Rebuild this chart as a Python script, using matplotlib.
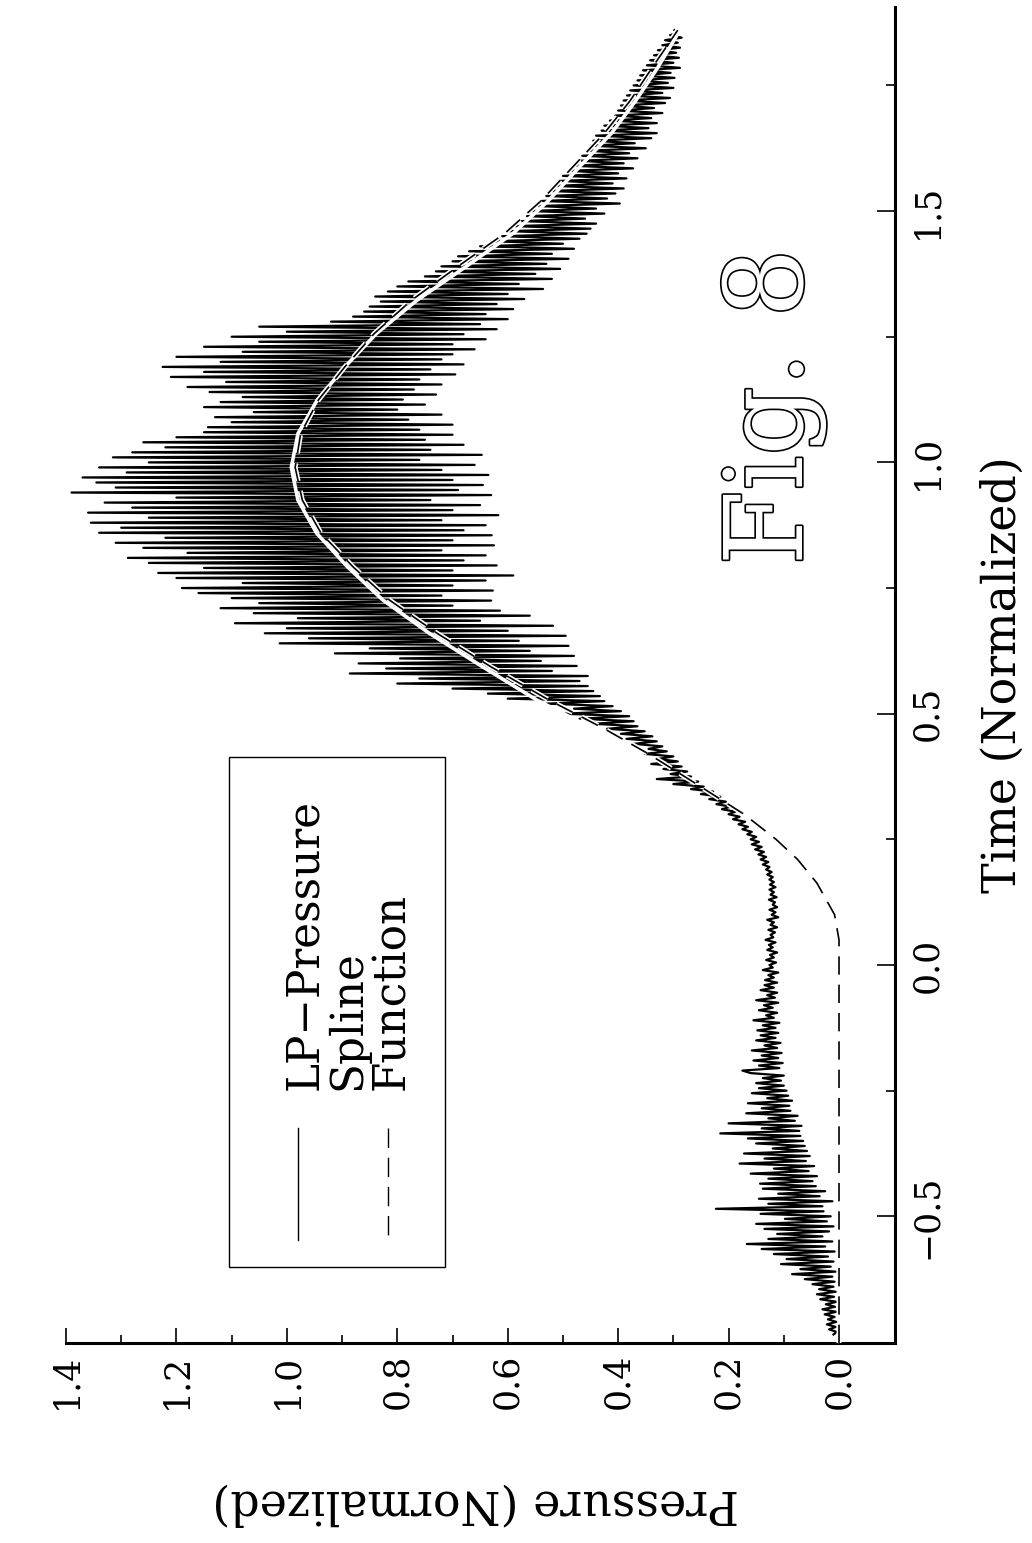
import matplotlib.pyplot as plt
import matplotlib.patheffects as pe
import numpy as np
from matplotlib.patches import Rectangle
from matplotlib.ticker import FixedLocator

plt.rcParams["font.family"] = ["DejaVu Serif"]

# LP-Pressure trace, read off the figure as alternating peaks/troughs,
# evenly sampled in time from lp_t_start to lp_t_end
lp_t_start = -0.735
lp_t_end = 1.86
lp_pressure = [
    0.010, 0.004, 0.018, 0.006, 0.022, 0.005, 0.020, 0.008, 0.026, 0.005,
    0.030, 0.007, 0.024, 0.004, 0.034, 0.009, 0.040, 0.006, 0.036, 0.010,
    0.048, 0.008, 0.062, 0.012, 0.085, 0.006, 0.070, 0.015, 0.105, 0.010,
    0.095, 0.020, 0.118, 0.008, 0.140, 0.025, 0.167, 0.012, 0.128, 0.030,
    0.112, 0.018, 0.135, 0.010, 0.150, 0.022, 0.098, 0.015, 0.142, 0.028,
    0.223, 0.030, 0.128, 0.012, 0.145, 0.035, 0.110, 0.025, 0.138, 0.042,
    0.143, 0.048, 0.128, 0.040, 0.160, 0.055, 0.118, 0.045, 0.180, 0.060,
    0.135, 0.053, 0.172, 0.058, 0.120, 0.062, 0.150, 0.065, 0.165, 0.070,
    0.215, 0.072, 0.140, 0.068, 0.200, 0.080, 0.128, 0.075, 0.168, 0.088,
    0.140, 0.090, 0.165, 0.085, 0.130, 0.092, 0.158, 0.095, 0.145, 0.100,
    0.150, 0.105, 0.138, 0.100, 0.160, 0.175, 0.108, 0.145, 0.102, 0.155,
    0.110, 0.140, 0.104, 0.158, 0.112, 0.135, 0.106, 0.150, 0.115, 0.142,
    0.110, 0.148, 0.115, 0.138, 0.108, 0.155, 0.118, 0.132, 0.112, 0.145,
    0.120, 0.136, 0.110, 0.150, 0.116, 0.130, 0.112, 0.142, 0.118, 0.135,
    0.112, 0.134, 0.118, 0.128, 0.110, 0.138, 0.120, 0.126, 0.114, 0.132,
    0.118, 0.125, 0.112, 0.130, 0.120, 0.127, 0.115, 0.133, 0.119, 0.124,
    0.116, 0.128, 0.112, 0.124, 0.118, 0.130, 0.110, 0.122, 0.115, 0.126,
    0.112, 0.120, 0.116, 0.127, 0.113, 0.124, 0.118, 0.126, 0.115, 0.125,
    0.118, 0.126, 0.120, 0.130, 0.122, 0.132, 0.126, 0.138, 0.128, 0.142,
    0.132, 0.146, 0.136, 0.152, 0.140, 0.158, 0.145, 0.160, 0.150, 0.166,
    0.158, 0.175, 0.165, 0.182, 0.170, 0.192, 0.180, 0.200, 0.188, 0.212,
    0.196, 0.222, 0.205, 0.235, 0.215, 0.250, 0.228, 0.268, 0.245, 0.300,
    0.255, 0.330, 0.268, 0.305, 0.275, 0.318, 0.285, 0.340, 0.292, 0.328,
    0.300, 0.352, 0.312, 0.345, 0.320, 0.372, 0.330, 0.385, 0.338, 0.395,
    0.352, 0.420, 0.365, 0.445, 0.372, 0.470, 0.380, 0.500, 0.395, 0.480,
    0.410, 0.530, 0.425, 0.600, 0.433, 0.636, 0.445, 0.700, 0.455, 0.800,
    0.470, 0.760, 0.455, 0.886, 0.520, 0.820, 0.475, 0.870, 0.540, 0.795,
    0.480, 0.913, 0.560, 0.850, 0.490, 1.013, 0.580, 0.960, 0.495, 1.040,
    0.600, 1.000, 0.518, 1.094, 0.650, 0.980, 0.560, 1.060, 0.614, 1.120,
    0.700, 1.050, 0.630, 1.100, 0.720, 1.160, 0.627, 1.190, 0.700, 1.080,
    0.640, 1.200, 0.590, 1.233, 0.700, 1.150, 0.620, 1.250, 0.680, 1.288,
    0.640, 1.180, 0.720, 1.260, 0.625, 1.310, 0.700, 1.220, 0.629, 1.340,
    0.680, 1.300, 0.640, 1.355, 0.720, 1.250, 0.617, 1.360, 0.700, 1.280,
    0.650, 1.330, 0.740, 1.200, 0.630, 1.390, 0.690, 1.310, 0.645, 1.345,
    0.700, 1.370, 0.635, 1.290, 0.720, 1.340, 0.660, 1.250, 0.760, 1.315,
    0.647, 1.280, 0.740, 1.220, 0.680, 1.260, 0.750, 1.200, 0.700, 1.150,
    0.760, 1.143, 0.700, 1.100, 0.780, 1.130, 0.720, 1.060, 0.800, 1.150,
    0.750, 1.120, 0.790, 1.080, 0.730, 1.140, 0.770, 1.180, 0.720, 1.110,
    0.760, 1.210, 0.695, 1.150, 0.740, 1.225, 0.680, 1.120, 0.720, 1.200,
    0.700, 1.080, 0.660, 1.150, 0.700, 1.050, 0.640, 1.100, 0.680, 1.000,
    0.620, 1.050, 0.650, 0.920, 0.600, 0.880, 0.640, 0.860, 0.590, 0.850,
    0.620, 0.830, 0.570, 0.840, 0.600, 0.817, 0.536, 0.800, 0.580, 0.780,
    0.520, 0.750, 0.550, 0.730, 0.505, 0.720, 0.530, 0.700, 0.490, 0.690,
    0.520, 0.670, 0.480, 0.650, 0.500, 0.630, 0.470, 0.610, 0.457, 0.600,
    0.450, 0.590, 0.440, 0.575, 0.460, 0.565, 0.425, 0.560, 0.440, 0.545,
    0.397, 0.540, 0.420, 0.530, 0.405, 0.525, 0.390, 0.515, 0.410, 0.505,
    0.385, 0.500, 0.400, 0.490, 0.373, 0.480, 0.390, 0.470, 0.365, 0.465,
    0.380, 0.455, 0.350, 0.450, 0.370, 0.445, 0.340, 0.440, 0.330, 0.430,
    0.345, 0.425, 0.330, 0.415, 0.340, 0.405, 0.320, 0.400, 0.335, 0.395,
    0.315, 0.390, 0.306, 0.384, 0.320, 0.378, 0.300, 0.372, 0.310, 0.365,
    0.298, 0.360, 0.305, 0.355, 0.288, 0.348, 0.300, 0.342, 0.290, 0.335,
    0.295, 0.328, 0.288, 0.320, 0.292, 0.315, 0.285, 0.306, 0.290, 0.298,
]
lp_time = np.linspace(lp_t_start, lp_t_end, len(lp_pressure))

# Spline through the data (drawn in white)
spline_time = [0.47, 0.527, 0.593, 0.66, 0.726, 0.792, 0.859, 0.925, 0.99,
               1.057, 1.124, 1.19, 1.256, 1.322, 1.39, 1.456, 1.52, 1.588,
               1.655, 1.72, 1.786, 1.86]
spline_pressure = [0.445, 0.547, 0.645, 0.742, 0.826, 0.890, 0.946, 0.980,
                   0.992, 0.980, 0.945, 0.895, 0.838, 0.765, 0.675, 0.590,
                   0.527, 0.470, 0.412, 0.368, 0.328, 0.288]

# Fitted function (dashed)
func_time = [-0.752, 0.05, 0.10, 0.163, 0.21, 0.25, 0.30, 0.36, 0.42, 0.47,
             0.527, 0.593, 0.66, 0.726, 0.792, 0.859, 0.925, 0.99, 1.057,
             1.124, 1.19, 1.256, 1.322, 1.39, 1.456, 1.52, 1.588, 1.655,
             1.72, 1.786, 1.86]
func_pressure = [0.0, 0.0, 0.008, 0.04, 0.075, 0.114, 0.172, 0.258, 0.345,
                 0.425, 0.525, 0.630, 0.728, 0.814, 0.880, 0.938, 0.972,
                 0.985, 0.975, 0.943, 0.895, 0.842, 0.775, 0.690, 0.605,
                 0.540, 0.482, 0.425, 0.378, 0.338, 0.292]

pressure_ticks = [0.0, 0.2, 0.4, 0.6, 0.8, 1.0, 1.2, 1.4]
pressure_minor = [0.1, 0.3, 0.5, 0.7, 0.9, 1.1, 1.3]
time_ticks = [-0.5, 0.0, 0.5, 1.0, 1.5]
time_minor = [-0.25, 0.25, 0.75, 1.25, 1.75]

legend_labels = ["LP\u2212Pressure", "Spline", "Function"]

W, H = 1032, 1543
fig = plt.figure(figsize=(W / 100, H / 100), dpi=100)
fig.patch.set_facecolor("white")

# main axes: pressure runs right-to-left along the bottom, time runs upward
ax = fig.add_axes([66 / W, 1 - 1343 / H, (895 - 66) / W, (1343 - 7) / H])
ax.plot(lp_pressure, lp_time, color="black", lw=1.6, zorder=2)
ax.plot(spline_pressure, spline_time, color="white", lw=2.6, zorder=3)
# dashed function with a thin white halo so it reads inside the black trace
ax.plot(func_pressure, func_time, color="black", lw=1.2,
        ls=(0, (11, 6)), zorder=4,
        path_effects=[pe.Stroke(linewidth=3.6, foreground="white"),
                      pe.Normal()])

ax.set_xlim(1.4, -0.1014)
ax.set_ylim(-0.752, 1.906)

for side in ["top", "left"]:
    ax.spines[side].set_visible(False)
for side in ["bottom", "right"]:
    ax.spines[side].set_linewidth(2.2)

ax.yaxis.tick_right()
ax.set_xticks(pressure_ticks)
ax.xaxis.set_minor_locator(FixedLocator(pressure_minor))
ax.set_yticks(time_ticks)
ax.yaxis.set_minor_locator(FixedLocator(time_minor))
ax.tick_params(axis="x", which="major", direction="in", length=11, width=1.2,
               labelsize=25, labelrotation=90, pad=8)
ax.tick_params(axis="x", which="minor", direction="in", length=5.5, width=1.2)
ax.tick_params(axis="y", which="major", direction="in", length=13, width=1.2,
               labelsize=25, labelrotation=90, pad=11, right=True, left=False)
ax.tick_params(axis="y", which="minor", direction="in", length=6.5, width=1.2,
               right=True, left=False)
for lab in ax.get_yticklabels():
    lab.set_verticalalignment("center")

# overlay in pixel coordinates for the rotated annotations
ov = fig.add_axes([0, 0, 1, 1])
ov.set_xlim(0, W)
ov.set_ylim(H, 0)
ov.axis("off")

ov.text(476, 1503, "Pressure (Normalized)", rotation=180, fontsize=33,
        ha="center", va="center")
ov.text(1003, 675, "Time (Normalized)", rotation=90, fontsize=33,
        ha="center", va="center")

# legend box
ov.add_patch(Rectangle((229, 757), 216, 510, fill=False, lw=1.0, ec="black"))
ov.plot([298, 298], [1128, 1240], color="black", lw=1.0)
ov.plot([343, 343], [1128, 1240], color="white", lw=1.0)
ov.plot([388, 388], [1128, 1240], color="black", lw=1.0, ls=(0, (14, 7)))
for xb, lab in zip([317, 360, 404], legend_labels):
    ov.text(xb, 1090, lab, rotation=90, rotation_mode="anchor", ha="left",
            va="baseline", fontsize=31.5)

# outlined figure label
ov.text(802, 407, "Fig. 8", rotation=90, rotation_mode="anchor", ha="center",
        va="baseline", fontsize=78, color="white",
        path_effects=[pe.Stroke(linewidth=2.4, foreground="black"), pe.Normal()])

fig.savefig("out.png", dpi=100, facecolor="white")
